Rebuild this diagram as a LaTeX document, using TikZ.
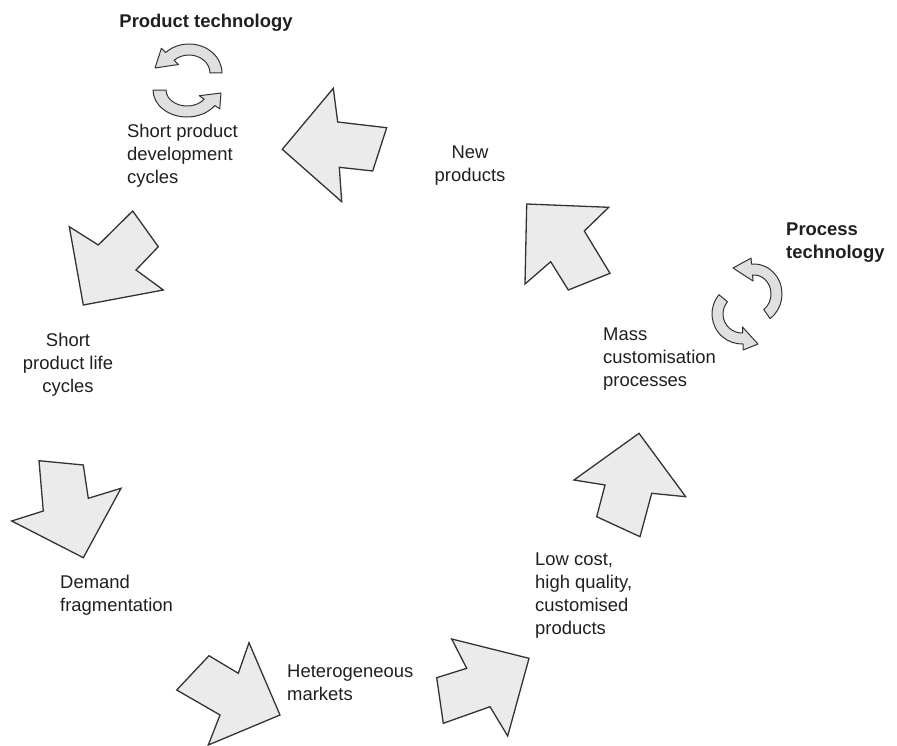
\documentclass[tikz,border=0pt]{standalone}
\usepackage{fontspec}
\setmainfont{Liberation Sans}
\begin{document}
\begin{tikzpicture}[x=1bp,y=-1bp,
  blockarrow/.style={draw=black!80, fill=black!8, line width=1.3bp, line join=miter},
  looparrow/.style={draw=black!80, fill=black!12, line width=1bp, line join=round},
  txt/.style={inner sep=0pt, font=\fontsize{18.5}{23}\selectfont, text=black!88},
  headtxt/.style={txt, font=\fontsize{18.5}{23}\selectfont\bfseries}]
\useasboundingbox (0,0) rectangle (897,746);

% ---- the cycle of block arrows (counter-clockwise) ----
% towards short development cycles
\draw[blockarrow] (282.3,149.3) -- (333.3,88.3) -- (337.7,122) -- (386.7,127.7)
  -- (372.7,171) -- (339.3,167.3) -- (341.7,201.7) -- cycle;
% towards short life cycles
\draw[blockarrow] (83.3,305) -- (69.3,226.7) -- (98.3,245) -- (132.7,211)
  -- (158.3,246.7) -- (136,270) -- (163.3,290) -- cycle;
% towards demand fragmentation
\draw[blockarrow] (83.3,557.7) -- (11.7,521) -- (43.3,511) -- (39,460.7)
  -- (83.3,465) -- (88.3,498.3) -- (121,488.3) -- cycle;
% towards heterogeneous markets
\draw[blockarrow] (280,715) -- (249,642.7) -- (238.3,673.3) -- (209,655.7)
  -- (176.7,690) -- (220,715) -- (208.3,745) -- cycle;
% towards low cost products
\draw[blockarrow] (529,658.3) -- (507.7,736) -- (490,706.7) -- (443.3,723.3)
  -- (436.7,677.7) -- (466.7,668.3) -- (451.7,639) -- cycle;
% towards mass customisation
\draw[blockarrow] (639,433.3) -- (685.7,496.7) -- (651.7,493.3) -- (640,536.7)
  -- (596.7,516.7) -- (605,485) -- (574,480) -- cycle;
% towards new products
\draw[blockarrow] (526.7,204) -- (608.7,207.3) -- (584.3,231) -- (610,273.3)
  -- (568.3,290) -- (550.7,261.7) -- (525,284) -- cycle;

% ---- product technology loop ----
\draw[looparrow, shift={(189,73)}]
  (0:33 and 29) arc[start angle=0, end angle=-135, x radius=33, y radius=29]
  -- (-135:39 and 35) -- (-34,-5) -- (-135:15 and 12) -- (-135:21 and 18)
  arc[start angle=-135, end angle=0, x radius=21, y radius=18] -- cycle;
\draw[looparrow, shift={(187,90)}]
  (180:34 and 27) arc[start angle=180, end angle=35, x radius=34, y radius=27]
  -- (35:40 and 33) -- (34,3) -- (35:15 and 10) -- (35:21 and 16)
  arc[start angle=35, end angle=180, x radius=21, y radius=16] -- cycle;

% ---- process technology loop ----
\draw[looparrow, shift={(754,294)}]
  (55:28 and 30) arc[start angle=55, end angle=-95, x radius=28, y radius=30]
  -- (-95:34 and 36) -- (-21,-26) -- (-95:11 and 13) -- (-95:17 and 19)
  arc[start angle=-95, end angle=55, x radius=17, y radius=19] -- cycle;
\draw[looparrow, shift={(742,314)}]
  (-140:30 and 30) arc[start angle=-140, end angle=-272, x radius=30, y radius=30]
  -- (-272:36 and 36) -- (16,30) -- (-272:13 and 13) -- (-272:19 and 19)
  arc[start angle=-272, end angle=-140, x radius=19, y radius=19] -- cycle;

% ---- labels ----
\node[headtxt, anchor=north] (prodtech) at (206,14) {Product technology};
\node[txt, anchor=north west, align=left] (devcycles) at (127,124) {Short product\\development\\cycles};
\node[txt, anchor=north, align=center] (newprod) at (470,146) {New\\products};
\node[headtxt, anchor=north west, align=left] (proctech) at (786,223) {Process\\technology};
\node[txt, anchor=north west, align=left] (masscust) at (603,328) {Mass\\customisation\\processes};
\node[txt, anchor=north, align=center] (lifecycles) at (68,333) {Short\\product life\\cycles};
\node[txt, anchor=north west, align=left] (lowcost) at (535,553) {Low cost,\\high quality,\\customised\\products};
\node[txt, anchor=north west, align=left] (demand) at (60,575) {Demand\\fragmentation};
\node[txt, anchor=north west, align=left] (hetero) at (287,665) {Heterogeneous\\markets};
\end{tikzpicture}
\end{document}
